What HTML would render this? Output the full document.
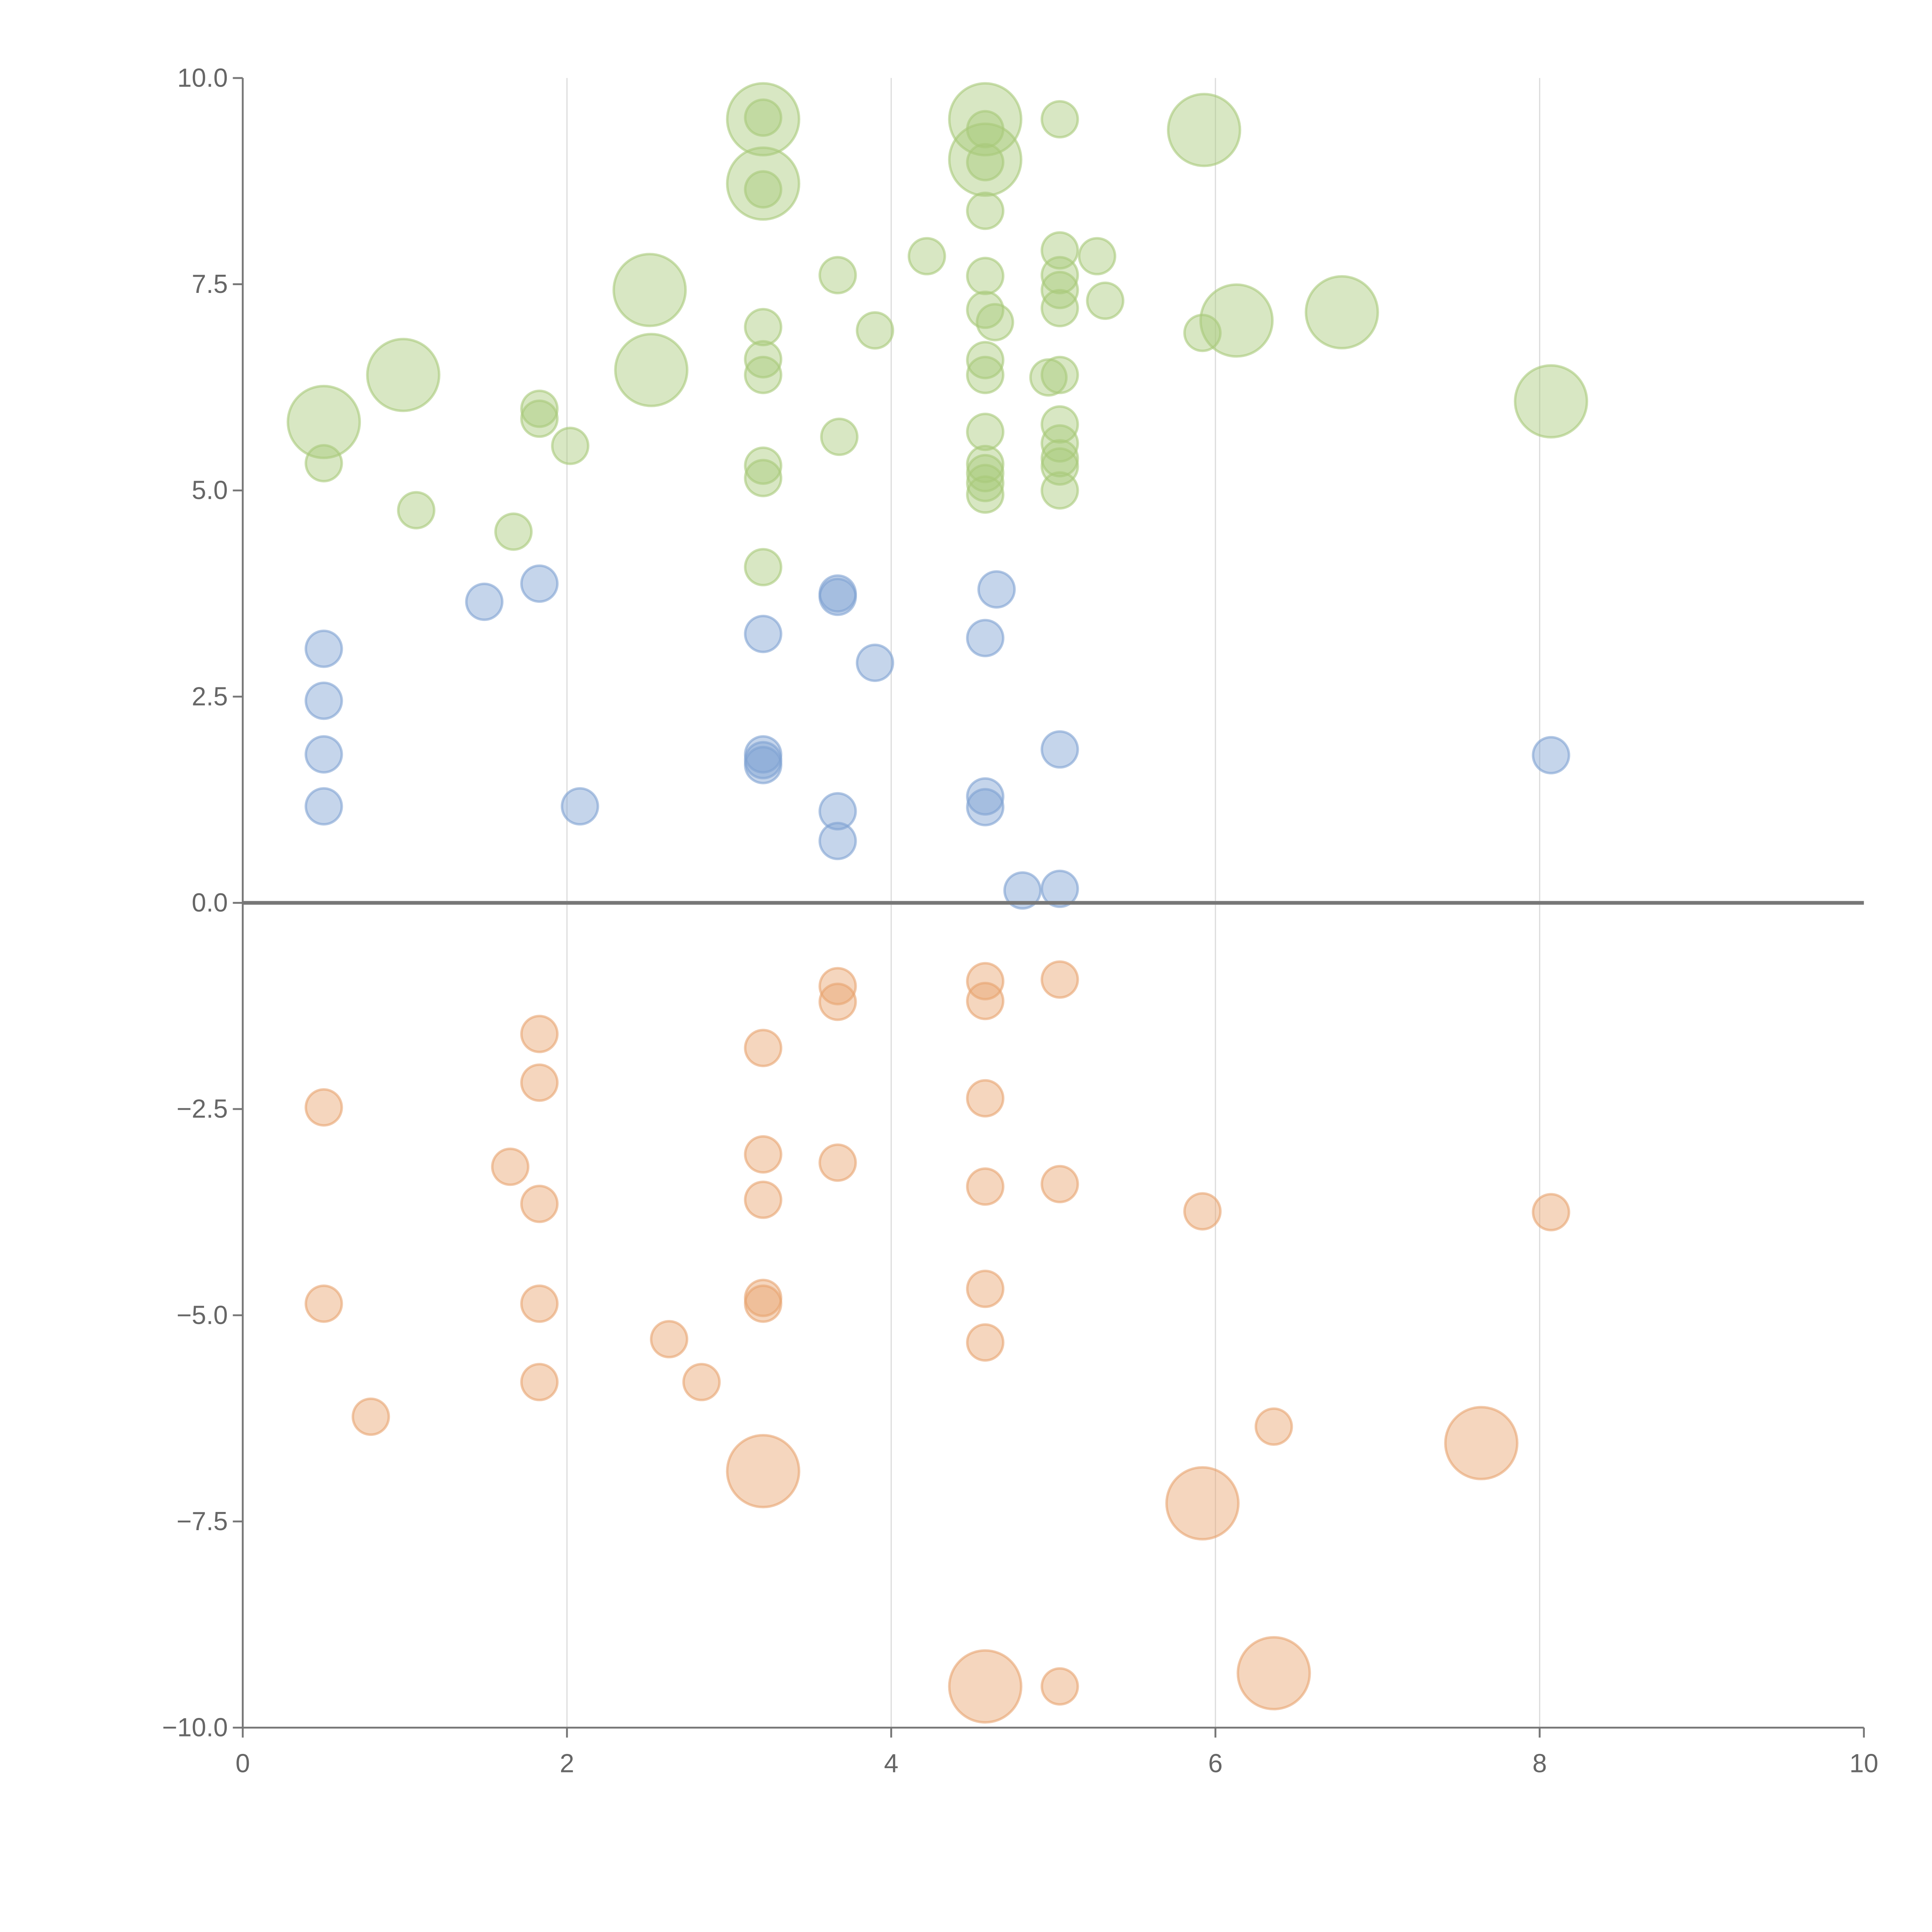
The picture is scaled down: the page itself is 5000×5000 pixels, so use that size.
<!DOCTYPE html>
<html><head><meta charset="utf-8"><style>html,body{margin:0;padding:0;background:#fff}svg{display:block}</style></head>
<body>
<svg id="chart" xmlns="http://www.w3.org/2000/svg" width="5000" height="5000" viewBox="0 0 1560 1560" font-family="Liberation Sans, sans-serif">
<g id="grid"></g>
<g id="marks"></g>
<g id="axes"></g>
</svg>
<script>
const xTicks=[0,2,4,6,8,10];
const yTicks=[-10,-7.5,-5,-2.5,0,2.5,5,7.5,10];
const greenX=[0.50,1.07,1.67,1.83,1.83,2.02,3.21,3.21,3.21,3.21,3.21,3.21,3.21,3.21,3.67,3.68,3.90,4.22,4.58,4.58,4.58,4.58,4.58,4.64,4.58,4.58,4.58,4.58,4.58,4.58,4.58,4.97,5.04,5.04,5.04,5.04,5.04,5.04,5.04,5.04,5.04,5.04,5.04,5.27,5.32,5.92,
0.50,0.99,2.51,2.52,3.21,3.21,4.58,4.58,5.93,6.13,6.78,8.07];
const greenY=[5.33,4.76,4.50,5.99,5.87,5.54,9.52,8.65,6.98,6.59,6.40,5.30,5.15,4.07,7.61,5.65,6.94,7.84,9.38,8.98,8.39,7.60,7.19,7.04,6.58,6.40,5.71,5.32,5.21,5.09,4.95,6.37,9.50,7.91,7.61,7.43,7.21,6.40,5.80,5.57,5.39,5.29,5.00,7.84,7.30,6.91,
5.83,6.40,7.43,6.46,9.50,8.72,9.50,9.01,9.37,7.06,7.16,6.08];
const greenS=[1,1,1,1,1,1,1,1,1,1,1,1,1,1,1,1,1,1,1,1,1,1,1,1,1,1,1,1,1,1,1,1,1,1,1,1,1,1,1,1,1,1,1,1,1,1,
4,4,4,4,4,4,4,4,4,4,4,4];
const blueX=[0.50,0.50,0.50,0.50,1.49,1.83,2.08,3.21,3.21,3.21,3.21,3.67,3.67,3.90,3.67,3.67,4.58,4.65,4.58,4.58,4.81,5.04,5.04,8.07];
const blueY=[3.08,2.45,1.80,1.17,3.65,3.87,1.17,3.26,1.80,1.73,1.67,3.75,3.71,2.91,1.11,0.75,3.21,3.80,1.29,1.16,0.15,0.17,1.86,1.79];
const orangeX=[0.50,0.50,0.79,1.65,1.83,1.83,1.83,1.83,1.83,2.63,2.83,3.21,3.21,3.21,3.21,3.21,3.67,3.67,3.67,4.58,4.58,4.58,4.58,4.58,4.58,5.04,5.04,5.04,5.92,6.36,8.07,
3.21,4.58,5.92,6.36,7.64];
const orangeY=[-2.48,-4.86,-6.23,-3.20,-1.59,-2.18,-3.65,-4.86,-5.81,-5.29,-5.81,-1.76,-3.05,-3.60,-4.79,-4.86,-1.01,-1.20,-3.15,-0.95,-1.19,-2.37,-3.44,-4.68,-5.33,-0.93,-3.41,-9.50,-3.74,-6.35,-3.75,
-6.89,-9.50,-7.28,-9.34,-6.55];
const orangeS=[1,1,1,1,1,1,1,1,1,1,1,1,1,1,1,1,1,1,1,1,1,1,1,1,1,1,1,1,1,1,1,
4,4,4,4,4];
const NS='http://www.w3.org/2000/svg';
const X0=196,X1=1505,Y0=1395,Y1=63;
function sx(v){return X0+(v-0)/(10-0)*(X1-X0);}
function sy(v){return Y0-(v+10)/20*(Y0-Y1);}
function rs(s){return 14.5*Math.sqrt(s);}
function mk(tag,attrs,parent){const e=document.createElementNS(NS,tag);for(const k in attrs)e.setAttribute(k,attrs[k]);parent.appendChild(e);return e;}
const grid=document.getElementById('grid'),marks=document.getElementById('marks'),axes=document.getElementById('axes');
xTicks.forEach(t=>{if(t===0||t===10)return;
 const l=mk('line',{x1:sx(t),x2:sx(t),y1:Y1,y2:Y0,stroke:'#dddddd','stroke-width':1},grid);
 
 });
function series(xs,ys,ss,fill,stroke,name){
 xs.forEach((x,i)=>{const c=mk('circle',{cx:sx(x),cy:sy(ys[i]),r:rs(ss?ss[i]:1),fill:fill,'fill-opacity':0.45,stroke:stroke,'stroke-opacity':0.6,'stroke-width':2},marks);
 
 });
}
series(greenX,greenY,greenS,'#a9c97a','#a9c97a','bubble-green');
series(blueX,blueY,null,'#7fa1d2','#7fa1d2','bubble-blue');
series(orangeX,orangeY,orangeS,'#e8a36f','#e8a36f','bubble-orange');
const zl=mk('line',{x1:X0,x2:X1,y1:sy(0),y2:sy(0),stroke:'#777','stroke-width':3},axes);


const ya=mk('line',{x1:X0,x2:X0,y1:Y1,y2:Y0,stroke:'#777','stroke-width':1.5},axes);


const xa=mk('line',{x1:X0,x2:X1,y1:Y0,y2:Y0,stroke:'#777','stroke-width':1.5},axes);


yTicks.forEach(t=>{
 const tk=mk('line',{x1:X0-8,x2:X0,y1:sy(t),y2:sy(t),stroke:'#777','stroke-width':1.5},axes);
 
 
 const tx=mk('text',{x:X0-12,y:sy(t)+7,'text-anchor':'end','font-size':21,fill:'#666'},axes);
 tx.textContent=(t<0?'\u2212':'')+Math.abs(t).toFixed(1);
 
 });
xTicks.forEach(t=>{
 const tk=mk('line',{x1:sx(t),x2:sx(t),y1:Y0,y2:Y0+8,stroke:'#777','stroke-width':1.5},axes);
 
 
 const tx=mk('text',{x:sx(t),y:Y0+36,'text-anchor':'middle','font-size':21,fill:'#666'},axes);
 tx.textContent=String(t);
 
 });
</script>
</body></html>
